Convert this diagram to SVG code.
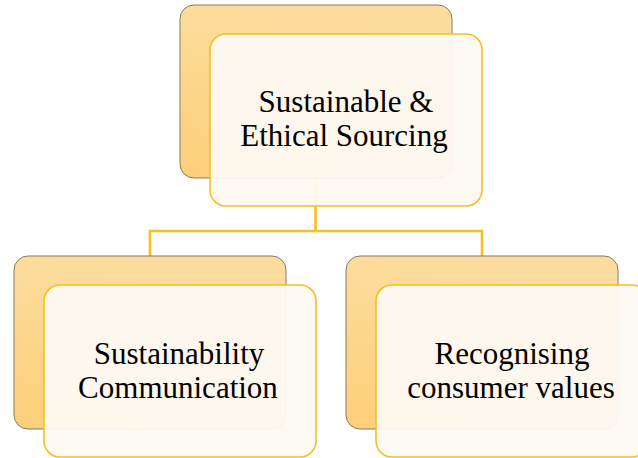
<svg xmlns="http://www.w3.org/2000/svg" width="638" height="458" viewBox="0 0 638 458">
  <defs>
    <linearGradient id="backFill" x1="0.3" y1="0" x2="0" y2="1">
      <stop offset="0" stop-color="#fddd9f"/>
      <stop offset="1" stop-color="#fccf79"/>
    </linearGradient>
    <style>
      .back { fill: url(#backFill); stroke: #857a66; stroke-width: 1; }
      .front { fill: #fdf9f2; fill-opacity: 0.95; stroke: #f5bf22; stroke-width: 1.6; }
      .link { fill: none; stroke: #f8c01c; stroke-width: 2.6; }
      .label { font-family: "Liberation Serif", "Times New Roman", serif; font-size: 31px; fill: #000; text-anchor: middle; }
    </style>
  </defs>
  <rect width="638" height="458" fill="#ffffff"/>

  <!-- connectors: parent to both children -->
  <g id="connectors">
    <path class="link" d="M315.5 178 V231 M150 256 V231 H482 V256"/>
  </g>

  <g id="node-sourcing">
    <rect class="back" x="180" y="5" width="272" height="173" rx="14"/>
    <rect class="front" x="210" y="34" width="272" height="172" rx="16"/>
    <text class="label" x="346" y="112">Sustainable &amp;</text>
    <text class="label" x="344" y="146">Ethical Sourcing</text>
  </g>

  <g id="node-communication">
    <rect class="back" x="14" y="256" width="272" height="173" rx="14"/>
    <rect class="front" x="44" y="285" width="272" height="172" rx="16"/>
    <text class="label" x="179" y="364">Sustainability</text>
    <text class="label" x="178" y="398">Communication</text>
  </g>

  <g id="node-values">
    <rect class="back" x="346" y="256" width="272" height="173" rx="14"/>
    <rect class="front" x="376" y="285" width="272" height="172" rx="16"/>
    <text class="label" x="512" y="364">Recognising</text>
    <text class="label" x="511" y="398">consumer values</text>
  </g>
</svg>
